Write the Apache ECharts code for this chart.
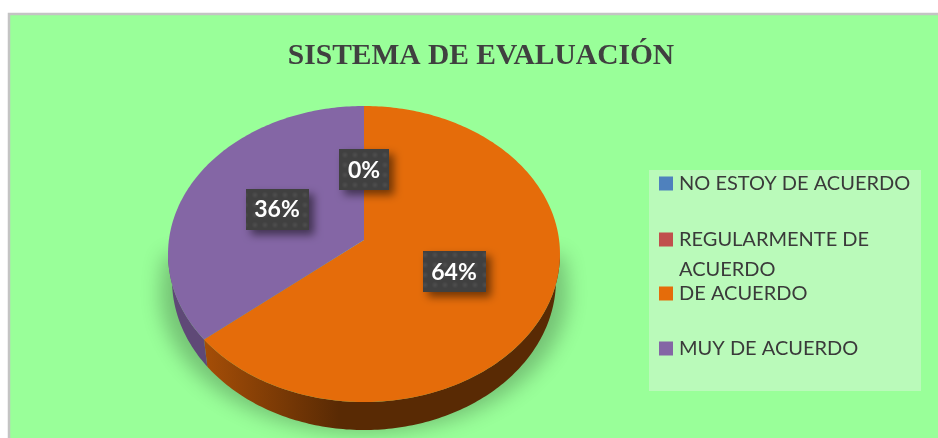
<!DOCTYPE html>
<html>
<head>
<meta charset="utf-8">
<style>html,body{margin:0;padding:0;background:#fff}#c{width:938px;height:438px}</style>
<script src="https://cdn.jsdelivr.net/npm/echarts@6/dist/echarts.min.js"></script>
</head>
<body>
<div id="c"></div>
<script>
const categories = ['NO ESTOY DE ACUERDO', 'REGULARMENTE DE ACUERDO', 'DE ACUERDO', 'MUY DE ACUERDO'];
const legendText = ['NO ESTOY DE ACUERDO', '\nREGULARMENTE DE\nACUERDO', 'DE ACUERDO', 'MUY DE ACUERDO'];
const values = [0, 0, 64, 36];
const showValueLabel = [true, false, true, true];
const colors = ['#4F81BD', '#C0504D', '#E56C0A', '#8466A5'];

const CX = 364, CY = 240, A = 195.1, B = 146.7, K = 0.0946;
const RIM_CY = 254, BASE_CY = 280, BASE_SX = 192 / 196, BASE_SY = 150 / 148;
const total = values.reduce((a, b) => a + b, 0);
const starts = values.map((_, i) => values.slice(0, i).reduce((a, b) => a + b, 0));
const P = (r, t) => {
  const w = 1 + K * r * Math.cos(t);
  return [CX + A * r * Math.sin(t) / w, CY - B * r * Math.cos(t) / w];
};
const Q = t => {
  const p = P(1, t);
  return [CX + (p[0] - CX) * BASE_SX, BASE_CY + (p[1] - RIM_CY) * BASE_SY];
};
const arc = (f, t0, t1) => {
  const n = Math.max(2, Math.ceil(Math.abs(t1 - t0) * 60));
  const out = [];
  for (let i = 0; i <= n; i++) out.push(f(t0 + (t1 - t0) * i / n));
  return out;
};
const rim = t => P(1, t);
const shade = (hex, f) => {
  const v = [1, 3, 5].map(j => Math.round(parseInt(hex.substr(j, 2), 16) * f));
  return 'rgb(' + v.join(',') + ')';
};

// dotted tile used behind the data labels
const tile = document.createElement('canvas');
tile.width = 10; tile.height = 10;
(function () {
  const g = tile.getContext('2d');
  g.fillStyle = '#404040'; g.fillRect(0, 0, 10, 10);
  const rg = g.createRadialGradient(5, 5, 0, 5, 5, 3.5);
  rg.addColorStop(0, 'rgba(255,255,255,0.08)');
  rg.addColorStop(1, 'rgba(255,255,255,0)');
  g.fillStyle = rg; g.fillRect(0, 0, 10, 10);
})();

function renderSlice(params, api) {
  const v = api.value(0), s = api.value(1), i = params.seriesIndex;
  const t0 = s / total * 2 * Math.PI, t1 = (s + v) / total * 2 * Math.PI;
  const col = colors[i];
  const children = [];
  if (v > 0) {
    const edge = Math.acos(-K);
    const w0 = Math.max(t0, edge), w1 = Math.min(t1, 2 * Math.PI - edge);
    if (w1 > w0) {
      children.push({
        type: 'polygon',
        shape: { points: arc(rim, w0, w1).concat(arc(Q, w1, w0)) },
        style: {
          fill: {
            type: 'linear', global: true, x: CX - 160, y: 0, x2: CX - 25, y2: 0,
            colorStops: [{ offset: 0, color: shade(col, 0.72) }, { offset: 1, color: shade(col, i === 3 ? 0.72 : 0.39) }]
          }
        }
      });
    }
    children.push({
      type: 'polygon',
      shape: { points: [P(0, 0)].concat(arc(rim, t0, t1)) },
      style: { fill: col }
    });
  }
  if (showValueLabel[i]) {
    const [lx, ly] = P(0.5, (t0 + t1) / 2);
    const txt = Math.round(v / total * 100) + '%';
    const w = txt.length * 13 + 24, h = 41;
    children.push({
      type: 'rect', z2: 50,
      shape: { x: Math.round(lx - w / 2), y: Math.round(ly - h / 2), width: w, height: h },
      style: { fill: { image: tile, repeat: 'repeat' }, shadowBlur: 8, shadowOffsetX: 5, shadowOffsetY: 5, shadowColor: 'rgba(0,0,0,0.5)' }
    }, {
      type: 'text', z2: 51,
      style: { text: txt, x: Math.round(lx), y: Math.round(ly) + 1, align: 'center', verticalAlign: 'middle',
               fill: '#ffffff', font: 'bold 23px Lato' }
    });
  }
  return { type: 'group', children };
}

// soft ground shadow below the pie
const shadowPts = (function () {
  const pts = [[CX - 200, 255], [CX + 200, 255]];
  for (let i = 0; i <= 80; i++) {
    const a = Math.PI * i / 80;
    pts.push([CX + 204 * Math.cos(a), 292 + 141 * Math.sin(a)]);
  }
  return pts.map(p => [p[0] - 3000, p[1]]);
})();

const chart = echarts.init(document.getElementById('c'), null, { renderer: 'canvas' });
chart.setOption({
  animation: false,
  backgroundColor: '#ffffff',
  title: {
    text: 'SISTEMA DE EVALUACIÓN', left: 481, top: 41, textAlign: 'center', padding: 0,
    textStyle: { fontFamily: 'Liberation Serif', fontWeight: 'bold', fontSize: 29.5, color: '#404040' }
  },
  legend: categories.map((c, i) => ({
    data: [c], orient: 'vertical', left: 659, top: i === 1 ? 194 : 168 + 55 * i, padding: 0,
    icon: 'rect', itemWidth: 14, itemHeight: 14, selectedMode: false,
    formatter: () => legendText[i],
    textStyle: {
      fontFamily: 'Lato', fontSize: 20, color: '#3A3A3A', lineHeight: 30,
      padding: [1, 0, 0, 1]
    }
  })),
  graphic: [
    { type: 'rect', z: 0, shape: { x: 9, y: 14, width: 940, height: 440 }, style: { fill: '#99FF99', stroke: '#C4C4C4', lineWidth: 2.5 } },
    { type: 'rect', z: 0, shape: { x: 649, y: 170, width: 272, height: 221 }, style: { fill: '#BAFABA' } },
    { type: 'polygon', z: 0, shape: { points: shadowPts },
      style: { fill: '#000', shadowBlur: 20, shadowOffsetX: 3000, shadowColor: 'rgba(0,0,0,0.24)' } }
  ],
  series: categories.map((c, i) => ({
    type: 'custom', name: c, coordinateSystem: 'none', silent: true,
    itemStyle: { color: colors[i] },
    encode: { value: 0 },
    data: [[values[i], starts[i]]],
    renderItem: renderSlice
  }))
});
</script>
</body>
</html>
